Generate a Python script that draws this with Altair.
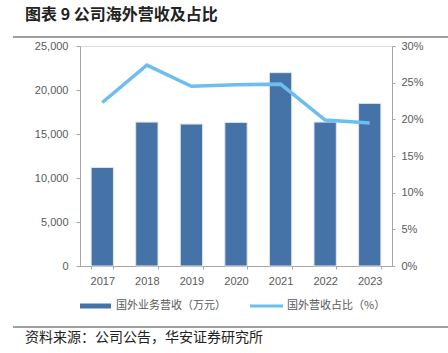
import altair as alt
import pandas as pd

years = ["2017", "2018", "2019", "2020", "2021", "2022", "2023"]
revenue = [11200, 16350, 16130, 16320, 21970, 16350, 18480]
share = [22.3, 27.4, 24.5, 24.7, 24.8, 19.9, 19.5]

title_text = "图表 9 公司海外营收及占比"
source_text = "资料来源：公司公告，华安证券研究所"
bar_label = "国外业务营收（万元）"
line_label = "国外营收占比（%）"

BAR = "#4572A7"
LINE = "#6DBEF0"
GRAY = "#595959"
AX = "#A6A6A6"
CJK = "Noto Sans CJK SC"
LAT = "Liberation Sans"

df = pd.DataFrame({"year": years, "revenue": revenue, "share": share})
one = pd.DataFrame({"k": [0]})

x = alt.X("year:N", sort=years, title=None,
          scale=alt.Scale(paddingInner=0.5, paddingOuter=0.25),
          axis=alt.Axis(labelAngle=0, labelColor=GRAY, labelFont=LAT, labelFontSize=11,
                        domainColor=AX, tickColor=AX, tickBand="extent", tickSize=3,
                        labelPadding=6))

bars = alt.Chart(df).mark_bar(color=BAR, stroke="#DCE4EF", strokeWidth=1).encode(
    x=x,
    y=alt.Y("revenue:Q", title=None,
            scale=alt.Scale(domain=[0, 25000]),
            axis=alt.Axis(values=[0, 5000, 10000, 15000, 20000, 25000],
                          labelExpr="format(datum.value, ',.0f')",
                          grid=False, labelColor=GRAY, labelFont=LAT, labelFontSize=11,
                          domainColor=AX, tickColor=AX, tickSize=4, labelPadding=8)),
)

line = alt.Chart(df).mark_line(color=LINE, strokeWidth=3.5).encode(
    x=x,
    y=alt.Y("share:Q", title=None,
            scale=alt.Scale(domain=[0, 30]),
            axis=alt.Axis(orient="right", values=[0, 5, 10, 15, 20, 25, 30],
                          labelExpr="datum.value + '%'",
                          grid=False, labelColor=GRAY, labelFont=LAT, labelFontSize=11,
                          domainColor=AX, tickColor=AX, tickSize=3, labelPadding=6)),
)

def txt(s, xv, yv, size, bold=False, color=GRAY):
    return alt.Chart(one).mark_text(text=s, align="left", baseline="middle", font=CJK,
                                    fontSize=size, fontWeight="bold" if bold else "normal",
                                    color=color).encode(x=alt.value(xv), y=alt.value(yv))

def hrule(x1, x2, yv, color, w):
    return alt.Chart(one).mark_rule(color=color, strokeWidth=w).encode(
        x=alt.value(x1), x2=alt.value(x2), y=alt.value(yv))

decor = [
    txt(title_text, -55, -31, 16, bold=True, color="#222222"),
    hrule(-67, 368, -9, "#7F7F7F", 1.5),
    hrule(0, 31, 260, BAR, 5),
    txt(bar_label, 36, 260, 11),
    hrule(170, 203, 260, LINE, 3),
    txt(line_label, 207, 260, 11),
    hrule(-67, 368, 281, "#7F7F7F", 1.5),
    txt(source_text, -55, 292, 14, color="#222222"),
]

chart = alt.layer(bars, line, *decor).resolve_scale(y="independent").properties(
    width=312, height=220,
    autosize=alt.AutoSizeParams(type="none"),
    padding={"left": 80, "top": 46, "right": 56, "bottom": 87},
).configure_view(strokeWidth=0).configure(background="white")

chart.save("out.html", embed_options={"renderer": "svg", "actions": False})
